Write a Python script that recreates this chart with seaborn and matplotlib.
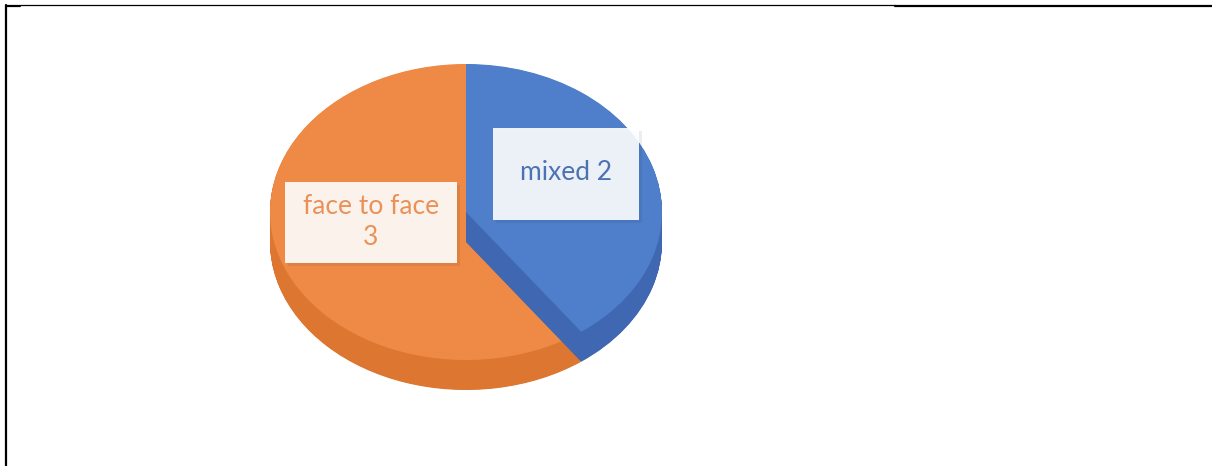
import matplotlib
matplotlib.use("Agg")
import matplotlib.pyplot as plt
from matplotlib.patches import Rectangle
from matplotlib.lines import Line2D
import seaborn as sns

# Delivery mode counts
categories = ["mixed", "face to face"]
values = [2, 3]
label_texts = ["mixed 2", "face to face\n3"]

sns.set_theme(style="white")
plt.rcParams["font.family"] = ["Lato", "DejaVu Sans"]

W, H = 1212, 466
top_cols = ["#4F7FCB", "#EE8A46"]
side_cols = ["#4068B2", "#DC7631"]
text_cols = ["#4D72B2", "#EA9159"]

fig = plt.figure(figsize=(W / 100, H / 100), dpi=100)
ax = fig.add_axes([0, 0, 1, 1])

# ellipse squash factor (vertical / horizontal radius)
rx, ry = 196.0, 148.0
k = ry / rx
cx_px, cy_px = 466.0, 212.0
depth_px = 30.0


def dy(y_px):
    return (H - y_px) / k


cx, cy = cx_px, dy(cy_px)
depth = depth_px / k


def wedge_layer(idx, color, offset):
    cols = ["none"] * len(values)
    cols[idx] = color
    ax.pie(values, colors=cols, startangle=90, counterclock=False,
           radius=rx, center=(cx, cy - offset), frame=True,
           wedgeprops=dict(linewidth=0))


steps = 60
# orange slab: side then top
for s in range(steps, 0, -1):
    wedge_layer(1, side_cols[1], depth * s / steps)
wedge_layer(1, top_cols[1], 0)
# blue slab: side then top
for s in range(steps, 0, -1):
    wedge_layer(0, side_cols[0], depth * s / steps)
wedge_layer(0, top_cols[0], 0)

ax.set_aspect("auto")
ax.set_xlim(0, W)
ax.set_ylim(0, H / k)
ax.axis("off")

# data label boxes (pixel layout: x0, y0, x1, y1)
boxes = [(493, 128, 639, 220), (285, 182, 457, 263)]
for i, (x0, y0, x1, y1) in enumerate(boxes):
    ax.add_patch(Rectangle((x0 + 3, dy(y1 + 3)), x1 - x0, (y1 - y0) / k,
                           facecolor="black", alpha=0.07, linewidth=0, zorder=5))
    ax.add_patch(Rectangle((x0, dy(y1)), x1 - x0, (y1 - y0) / k,
                           facecolor="white", alpha=0.9, linewidth=0, zorder=6))
    ax.text((x0 + x1) / 2, dy((y0 + y1) / 2 - 1), label_texts[i], ha="center",
            va="center", fontsize=19, color=text_cols[i], zorder=7,
            linespacing=1.3)

# frame lines
fig.add_artist(Line2D([6, 6], [0, H - 5], transform=None, color="black", lw=1.6))
fig.add_artist(Line2D([6, 20], [H - 5.5, H - 5.5], transform=None, color="black", lw=1.6))
fig.add_artist(Line2D([20, 895], [H - 5, H - 5], transform=None, color="black", lw=0.9))
fig.add_artist(Line2D([895, W], [H - 5.5, H - 5.5], transform=None, color="black", lw=1.6))

fig.savefig("out.png", dpi=100)
